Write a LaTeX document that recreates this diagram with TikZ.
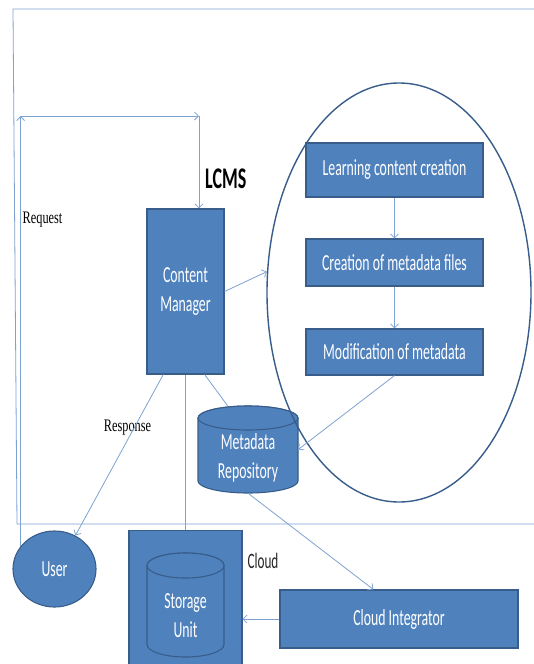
\documentclass[tikz,border=0pt]{standalone}
\usepackage{fontspec}
\newfontfamily\calf[FakeStretch=0.6]{Carlito}
\newfontfamily\timesf[FakeStretch=0.7]{Liberation Serif}
\usetikzlibrary{shapes.geometric,arrows.meta}
\definecolor{fillb}{HTML}{4F81BD}
\definecolor{edgeb}{HTML}{385D8A}
\definecolor{lineb}{HTML}{7EA3D2}
\tikzset{
  box/.style={draw=edgeb, fill=fillb, line width=1.1pt, text=white,
    font=\calf\fontsize{23}{29}\selectfont, inner sep=0pt, align=center},
  txt/.style={text=white, font=\calf\fontsize{23}{29}\selectfont, inner sep=0pt, align=center},
  cylb/.style={draw=edgeb, fill=fillb, line width=1.1pt},
  conn/.style={draw=lineb, line width=0.8pt},
  arr/.style={conn, -{Straight Barb[length=4pt,width=8pt]}},
  lbl/.style={font=\timesf\fontsize{17.6}{20}\selectfont, text=black, inner sep=0pt},
}
\begin{document}
\begin{tikzpicture}[x=1pt,y=-1pt]
\useasboundingbox (0,0) rectangle (534,664);
\fill[white] (0,0) rectangle (534,664);

% frame
\draw[conn] (540,9) -- (13,9) -- (17,524) -- (540,524);

% LCMS ellipse and process boxes
\node[box, minimum width=177pt, minimum height=54pt] (lcc) at (394.5,170) {Learning content creation};
\node[box, minimum width=177pt, minimum height=47pt] (cmf) at (394.5,262.5) {Creation of metadata files};
\node[box, minimum width=177pt, minimum height=46pt] (mom) at (394.5,352) {Modification of metadata};

% content manager
\node[box, minimum width=77pt, minimum height=165pt] (cm) at (185.5,291.5) {Content\\Manager};

% metadata repository cylinder
\draw[cylb] (198,418) -- (198,481)
  arc[start angle=180,end angle=360,x radius=50pt,y radius=12pt] -- (298,418)
  arc[start angle=0,end angle=180,x radius=50pt,y radius=12pt] -- cycle;
\draw[cylb] (248,418) ellipse[x radius=50pt, y radius=12pt];
\node[inner sep=0pt, minimum width=100pt, minimum height=87pt] (mr) at (248,449.5) {};
\node[txt] (mrt) at (248,458) {Metadata\\Repository};

\node[draw=edgeb, line width=1.4pt, ellipse, minimum width=264pt, minimum height=419pt, inner sep=0pt] (el) at (399,292.5) {};

% user
\node[box, ellipse, minimum width=83pt, minimum height=76pt] (user) at (54.5,569) {User};

% storage
\node[box, minimum width=113pt, minimum height=136pt, anchor=north] (sb) at (185.5,530) {};
\draw[cylb] (147,565.5) -- (147,644.5)
  arc[start angle=180,end angle=360,x radius=38.5pt,y radius=12.5pt] -- (224,565.5)
  arc[start angle=0,end angle=180,x radius=38.5pt,y radius=12.5pt] -- cycle;
\draw[cylb] (185.5,565.5) ellipse[x radius=38.5pt, y radius=12.5pt];
\node[txt] (sut) at (185.5,616) {Storage\\Unit};

% cloud integrator
\node[box, minimum width=238pt, minimum height=58pt] (ci) at (399,619) {Cloud Integrator};

% labels
\node[font=\calf\bfseries\fontsize{30}{30}\selectfont, anchor=base, inner sep=0pt] (lcms) at (225.8,188) {LCMS};
\node[font=\calf\fontsize{22}{26}\selectfont, anchor=base, inner sep=0pt, text=black!85] (cloud) at (263,568) {Cloud};
\node[lbl, anchor=base] (req) at (42.5,223) {Request};
\node[lbl, anchor=base] (resp) at (127.5,431) {Response};

% connectors
\coordinate (r1) at (21.1,116);
\coordinate (r2) at (199,116);
\draw[arr] (user.146) -- (user.146 |- r1);
\draw[arr] (r1) -- (r2);
\draw[arr] (r2) -- (r2 |- cm.north);
\draw[arr] (cm.east) -- (el.171);
\draw[arr] (lcc.south) -- (cmf.north);
\draw[arr] (cmf.south) -- (mom.north);
\draw[arr] (mom.south) -- (mr.east);
\draw[arr] (cm.255) -- (user.58);
\draw[conn] (cm.south) -- (sb.north);
\draw[conn] (cm.283) -- (mr.115);
\draw[arr] (mr.south) -- (ci.131);
\draw[arr] (ci.west) -- (ci.west -| sb.east);
\end{tikzpicture}
\end{document}
